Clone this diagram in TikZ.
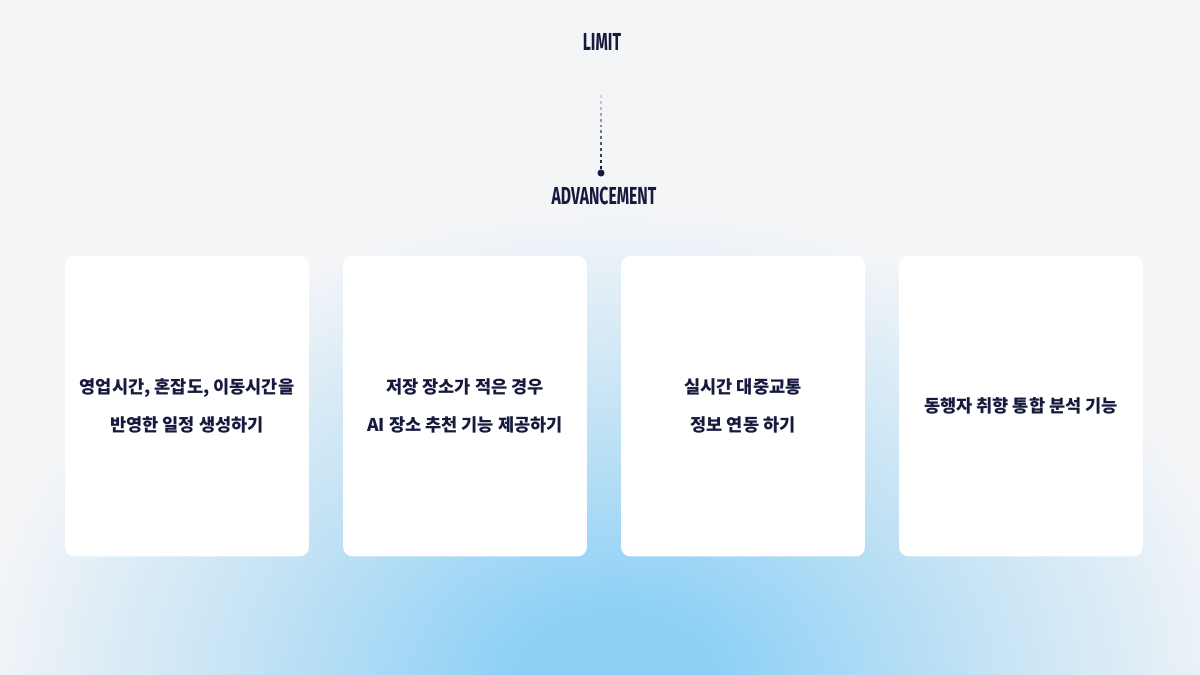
\documentclass[tikz,border=0pt]{standalone}
\usepackage{fontspec}
\usetikzlibrary{calc}
\newfontfamily\krfont{Noto Sans CJK KR}
\newfontfamily\headfont{Fira Sans}
\definecolor{bgc}{HTML}{F4F5F7}
\definecolor{glow}{HTML}{8DD0F6}
\definecolor{glowmid}{HTML}{C2E2F5}
\definecolor{ink}{HTML}{161A3D}
\pgfdeclareradialshading{glowshade}{\pgfpoint{0bp}{0bp}}{color(0bp)=(glow); color(4bp)=(glow); color(14bp)=(glowmid); color(25bp)=(bgc); color(50bp)=(bgc)}
\tikzset{
  card/.style={fill=white,rounded corners=5.5pt,minimum width=4.88cm,minimum height=6.02cm,
    align=center,text=ink,font={\krfont\bfseries\fontsize{10}{22}\selectfont}},
  head/.style={text=ink,font={\headfont\bfseries\fontsize{14}{14}\selectfont},inner sep=0pt},
  dot/.style={circle,fill=ink,inner sep=0pt,minimum size=4pt}
}
\begin{document}
\begin{tikzpicture}[x=0.02cm,y=-0.02cm,>=latex]
        % background and glow
        \fill[bgc](0,0)rectangle(1200,675);
        \begin{scope}
          \clip(0,0)rectangle(1200,675);
          \shade[shading=glowshade](615,690)ellipse[x radius=640,y radius=480];
        \end{scope}
        \useasboundingbox(0,0)rectangle(1200,675);
        % headings
        \node[head] (limit) at(602,42){\scalebox{0.64}[1]{LIMIT}};
        \node[head] (advancement) at(604,196){\scalebox{0.64}[1]{ADVANCEMENT}};
        \coordinate (fadeTop) at(601,95);
        \node[dot] (dot) at(601,173){};
        \foreach \i in {0,...,12}{
          \pgfmathsetmacro{\shadeAmt}{15+\i*7}
          \draw[ink!\shadeAmt!bgc,line width=1.2pt]($(fadeTop)!{\i/13.2}!(dot)$)--($(fadeTop)!{(\i+0.5)/13.2}!(dot)$);
        }
        % cards
        \node[card] (card1) at(187,406){영업시간, 혼잡도, 이동시간을\\반영한 일정 생성하기};
        \node[card] (card2) at(465,406){저장 장소가 적은 경우\\AI 장소 추천 기능 제공하기};
        \node[card] (card3) at(743,406){실시간 대중교통\\정보 연동 하기};
        \node[card] (card4) at(1021,406){동행자 취향 통합 분석 기능};
    \end{tikzpicture}
\end{document}
